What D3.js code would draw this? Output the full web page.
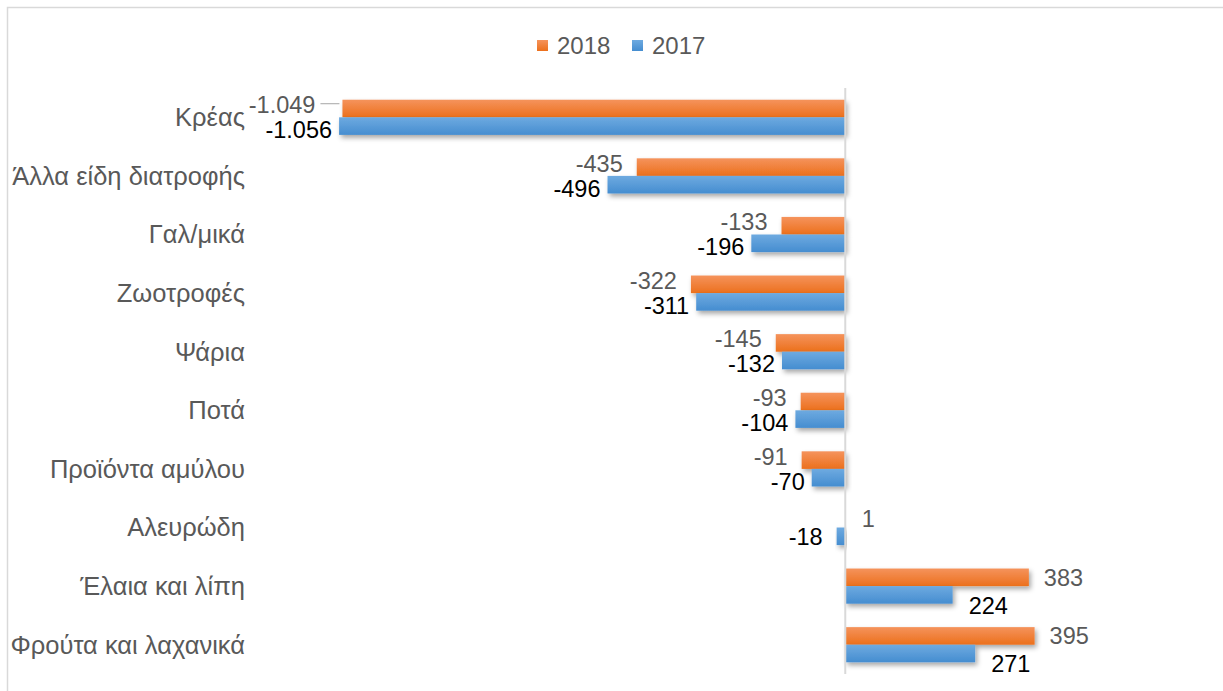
<!DOCTYPE html>
<html>
<head>
<meta charset="utf-8">
<script src="https://cdn.jsdelivr.net/npm/d3@7"></script>
<style>
body { margin: 0; background: #fff; }
svg { display: block; font-family: "Liberation Sans", Arial, sans-serif; }
</style>
</head>
<body>
<svg id="chart" width="1223" height="691"></svg>
<script>
var categories = ["Κρέας", "Άλλα είδη διατροφής", "Γαλ/μικά", "Ζωοτροφές", "Ψάρια",
	"Ποτά", "Προϊόντα αμύλου", "Αλευρώδη", "Έλαια και λίπη", "Φρούτα και λαχανικά"];
var seriesNames = ["2018", "2017"];
var values2018 = [-1049, -435, -133, -322, -145, -93, -91, 1, 383, 395];
var values2017 = [-1056, -496, -196, -311, -132, -104, -70, -18, 224, 271];

var W = 1223, H = 691;
var svg = d3.select("#chart");

var fmt = d3.formatLocale({decimal: ",", thousands: ".", grouping: [3], currency: ["", "€"], minus: "-"}).format(",d");

// frame (cropped at right and bottom)
svg.append("rect")
	.attr("x", 7.5).attr("y", 7.5)
	.attr("width", 1230).attr("height", 700)
	.attr("fill", "#fff").attr("stroke", "#d9d9d9").attr("stroke-width", 1.5);

var defs = svg.append("defs");
function grad(id, c1, c2){
	var g = defs.append("linearGradient").attr("id", id)
		.attr("x1", 0).attr("y1", 0).attr("x2", 0).attr("y2", 1);
	g.append("stop").attr("offset", "0%").attr("stop-color", c1);
	g.append("stop").attr("offset", "100%").attr("stop-color", c2);
}
grad("g2018", "#f5935c", "#ec701c");
grad("g2017", "#6eaae0", "#458dd0");

var f = defs.append("filter").attr("id", "shadow")
	.attr("x", "-10%").attr("y", "-30%").attr("width", "130%").attr("height", "180%");
f.append("feDropShadow").attr("dx", 2).attr("dy", 3).attr("stdDeviation", 2.5)
	.attr("flood-color", "#000").attr("flood-opacity", 0.35);

var x = d3.scaleLinear().domain([-1100, 400]).range([318, 1037]);
var y = d3.scaleBand().domain(categories).range([88, 674]).paddingInner(0.4).paddingOuter(0.2);
var ys = d3.scaleBand().domain(seriesNames).range([0, y.bandwidth()]);

var colors = {"2018": "url(#g2018)", "2017": "url(#g2017)"};
var rows = categories.map(function(c, i){
	return {cat: c, vals: [{s: "2018", v: values2018[i]}, {s: "2017", v: values2017[i]}]};
});

// category labels
svg.append("g").selectAll("text")
	.data(categories)
	.join("text")
	.attr("x", 245)
	.attr("y", function(d){ return y(d) + y.bandwidth() / 2; })
	.attr("dy", "0.35em")
	.attr("text-anchor", "end")
	.attr("font-size", 25.5)
	.attr("fill", "#595959")
	.text(function(d){ return d; });

// bars
var groups = svg.append("g").selectAll("g")
	.data(rows)
	.join("g")
	.attr("transform", function(d){ return "translate(0," + y(d.cat) + ")"; });

groups.selectAll("rect")
	.data(function(d){ return d.vals; })
	.join("rect")
	.attr("x", function(d){ return Math.min(x(0), x(d.v)); })
	.attr("y", function(d){ return ys(d.s); })
	.attr("width", function(d){ return Math.abs(x(d.v) - x(0)); })
	.attr("height", ys.bandwidth())
	.attr("fill", function(d){ return colors[d.s]; })
	.attr("filter", "url(#shadow)");

// axis line
svg.append("line")
	.attr("x1", x(0)).attr("x2", x(0))
	.attr("y1", 88).attr("y2", 674)
	.attr("stroke", "#d9d9d9").attr("stroke-width", 2);

// data labels
groups.each(function(row){
	var g = d3.select(this);
	row.vals.forEach(function(d){
		var top = ys(d.s), bh = ys.bandwidth();
		var tx, ty, anchor;
		if(d.v < 0){
			anchor = "end";
			if(d.s === "2018"){ tx = x(d.v) - 14; ty = top + 5; }
			else { tx = x(d.v) - 7; ty = top + bh - 5; }
			if(d.v < -1000 && d.s === "2018") tx = x(d.v) - 27;
			if(d.v > -30){ ty = top + bh / 2; tx = x(d.v) - 14; }
		} else if(d.v < 5){
			anchor = "start"; tx = x(d.v) + 16; ty = top + bh / 2;
		} else {
			anchor = "start";
			if(d.s === "2018"){ tx = x(d.v) + 15; ty = top + bh / 2; }
			else { tx = x(d.v) + 16; ty = top + bh + 2; }
		}
		g.append("text")
			.attr("x", tx).attr("y", ty)
			.attr("dy", "0.35em")
			.attr("text-anchor", anchor)
			.attr("font-size", 23.5)
			.attr("fill", d.s === "2018" ? "#595959" : "#000")
			.text(fmt(d.v));
		if(d.v < -1000 && d.s === "2018"){
			g.append("line")
				.attr("x1", tx + 5).attr("x2", x(d.v) - 3)
				.attr("y1", ty - 1).attr("y2", ty - 1)
				.attr("stroke", "#a6a6a6").attr("stroke-width", 1);
		}
	});
});

// legend
var legend = svg.append("g").attr("transform", "translate(537,40)");
var lg = legend.selectAll("g")
	.data(seriesNames)
	.join("g")
	.attr("transform", function(d, i){ return "translate(" + (i * 95) + ",0)"; });
lg.append("rect")
	.attr("width", 11).attr("height", 11)
	.attr("fill", function(d){ return colors[d]; });
lg.append("text")
	.attr("x", 20).attr("y", 6)
	.attr("dy", "0.35em")
	.attr("font-size", 24)
	.attr("fill", "#595959")
	.text(function(d){ return d; });
</script>
</body>
</html>
